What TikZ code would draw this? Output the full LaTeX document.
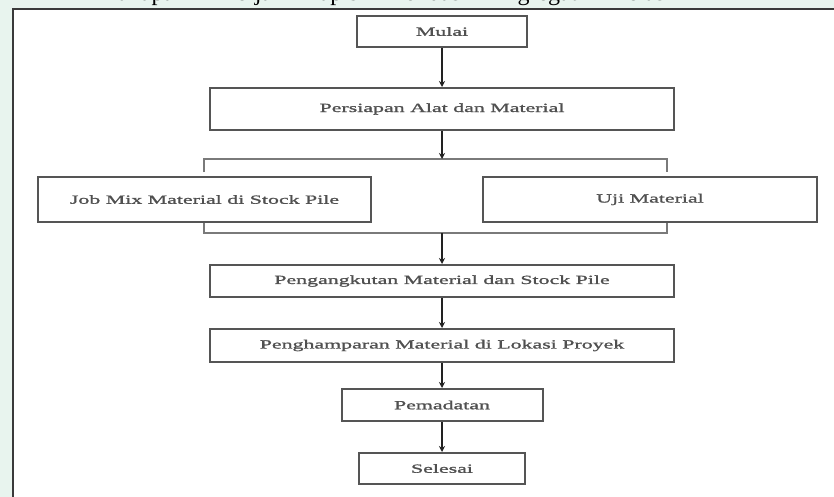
\documentclass[tikz,border=0pt]{standalone}
\usepackage{fontspec}
\setmainfont{Liberation Serif}
\newfontfamily\boxfont[FakeStretch=1.75,FakeBold=1.4]{Liberation Serif}
\usetikzlibrary{arrows.meta}
\definecolor{pagegreen}{HTML}{E8F4EE}
\definecolor{framegray}{HTML}{3A3A3A}
\definecolor{boxgray}{HTML}{555555}
\definecolor{textgray}{HTML}{505050}
\definecolor{arrowgray}{HTML}{222222}
\definecolor{splitgray}{HTML}{7A7A7A}
\begin{document}
\begin{tikzpicture}[x=1pt,y=-1pt,
  stepbox/.style={draw=boxgray, line width=2pt, fill=white, inner sep=0pt,
    font=\boxfont\fontsize{12.5}{14}\selectfont, text=textgray},
  flow/.style={line width=1.4pt, draw=arrowgray,
    -{Stealth[length=6pt,width=6pt]}},
  split/.style={line width=1.3pt, draw=splitgray}]
\useasboundingbox (0,0) rectangle (834,497);
% page background and the framed area
\fill[pagegreen] (0,0) rectangle (834,497);
\fill[white] (13,9) rectangle (834,497);
% heading line of the page, mostly above the visible area
\node[anchor=base west, inner sep=0pt, font=\fontsize{24}{26}\selectfont] (title) at (105,0.5)
  {\makebox[610pt][s]{Tahapan Kerja Lapis Pondasi Agregat Kelas A}};
\draw[framegray, line width=2.5pt] (13,497) -- (13,9) -- (834,9);

% process steps
\node[stepbox, minimum width=170pt, minimum height=31pt] (mulai) at (442,31.5) {Mulai};
\node[stepbox, minimum width=464pt, minimum height=42pt] (persiapan) at (442,109) {Persiapan Alat dan Material};
\node[stepbox, minimum width=333pt, minimum height=45pt] (job) at (204.5,199.5) {Job Mix Material di Stock Pile};
\node[stepbox, minimum width=334pt, minimum height=45pt] (uji) at (650,199.5) {Uji Material};
\node[stepbox, minimum width=464pt, minimum height=32pt] (angkut) at (442,281) {Pengangkutan Material dan Stock Pile};
\node[stepbox, minimum width=464pt, minimum height=33pt] (hampar) at (442,345.5) {Penghamparan Material di Lokasi Proyek};
\node[stepbox, minimum width=201pt, minimum height=32pt] (padat) at (442,405) {Pemadatan};
\node[stepbox, minimum width=166pt, minimum height=31pt] (selesai) at (442,468.5) {Selesai};

% split and join brackets
\coordinate (splitL) at (204,159);
\coordinate (splitC) at (442,159);
\coordinate (splitR) at (667,159);
\coordinate (legL) at (204,172);
\coordinate (legR) at (667,172);
\coordinate (joinL) at (204,233);
\coordinate (joinC) at (442,233);
\coordinate (joinR) at (667,233);

\draw[split] (legL) -- (splitL) -- (splitR) -- (legR);
\draw[split] (job.south -| joinL) -- (joinL) -- (joinR) -- (uji.south -| joinR);

% flow arrows
\draw[flow] (mulai) -- (persiapan);
\draw[flow] (persiapan) -- (splitC);
\draw[flow] (joinC) -- (angkut);
\draw[flow] (angkut) -- (hampar);
\draw[flow] (hampar) -- (padat);
\draw[flow] (padat) -- (selesai);
\end{tikzpicture}
\end{document}
